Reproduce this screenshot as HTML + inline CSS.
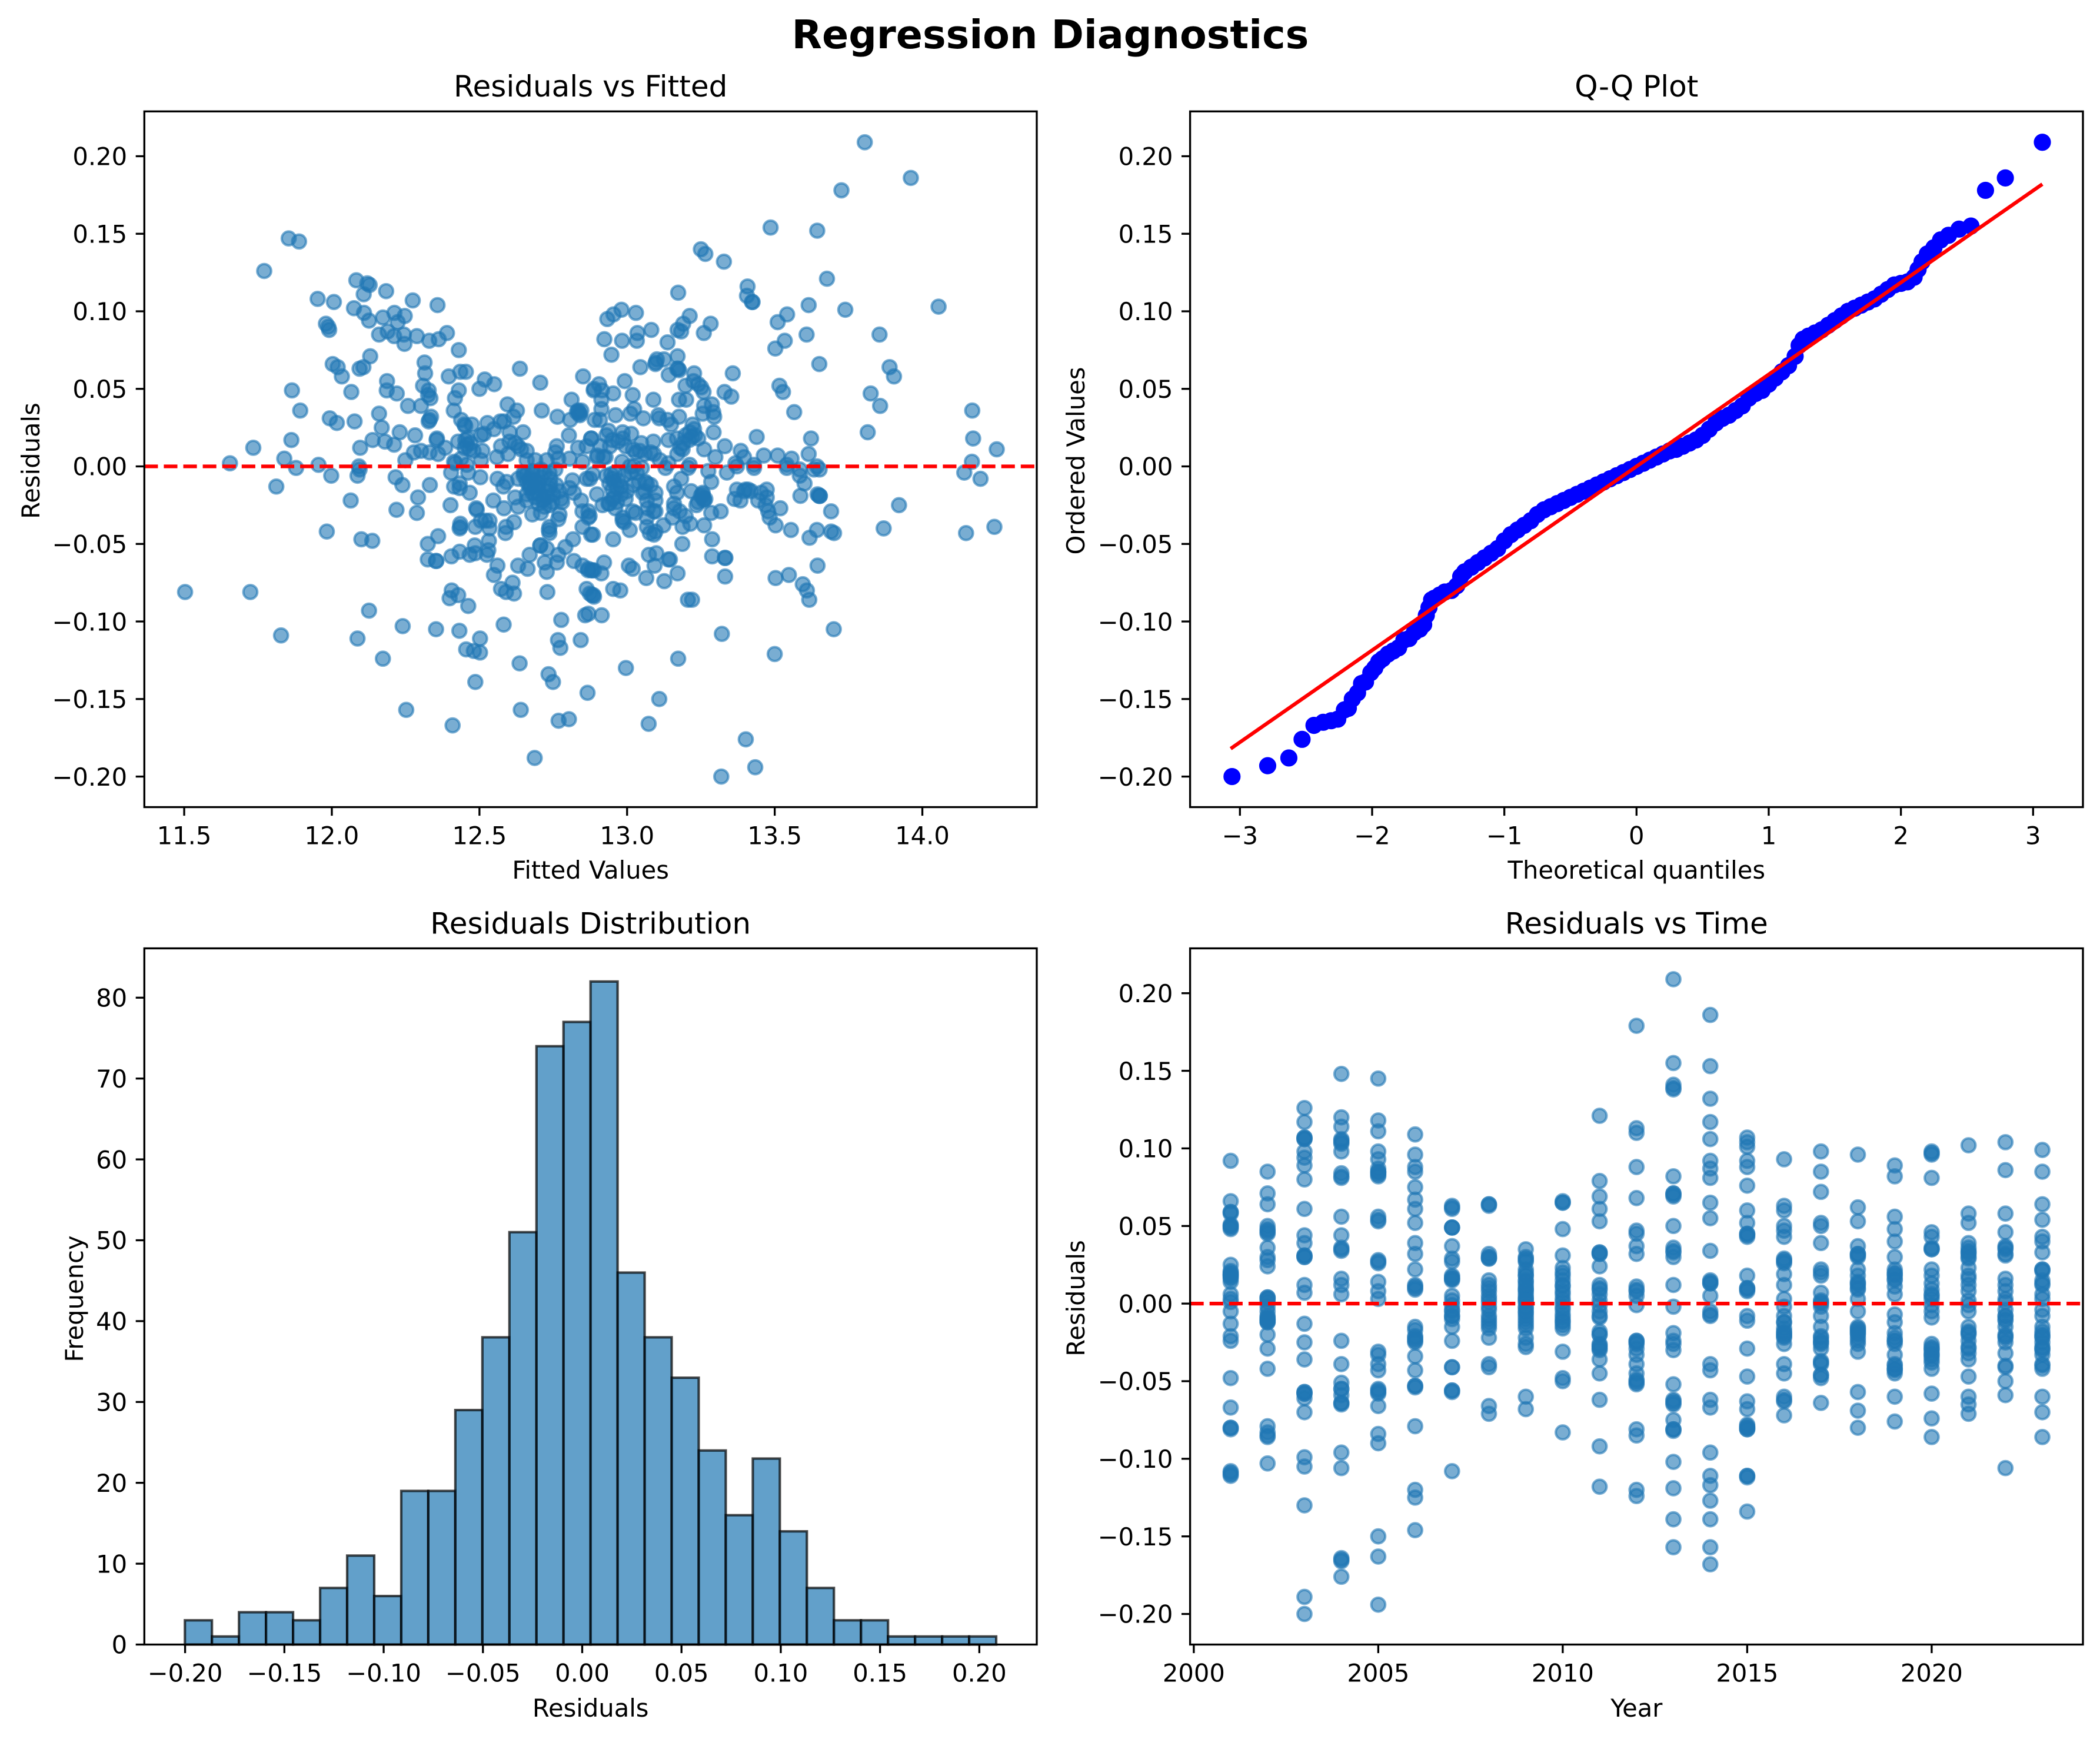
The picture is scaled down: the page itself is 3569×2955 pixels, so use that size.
<!DOCTYPE html>
<html lang="en">
<head>
<meta charset="utf-8">
<title>Regression Diagnostics</title>
<style>
html,body{margin:0;padding:0;background:#fff;}
svg{display:block;}
text{font-family:"DejaVu Sans","Liberation Sans",sans-serif;fill:#000;}
</style>
</head>
<body>
<svg id="figure" xmlns="http://www.w3.org/2000/svg" width="3569" height="2955" viewBox="0 0 3569 2955">
  <rect x="0" y="0" width="3569" height="2955" fill="#ffffff"/>
  <text x="1785" y="82" text-anchor="middle" font-size="66.67" font-weight="700">Regression Diagnostics</text>

  <g id="panel-fitted">
    <text x="1003.7" y="164" text-anchor="middle" font-size="50">Residuals vs Fitted</text>
    <text x="1003.7" y="1493" text-anchor="middle" font-size="41.67">Fitted Values</text>
    <text transform="translate(67 783) rotate(-90)" text-anchor="middle" font-size="41.67">Residuals</text>
  </g>
  <g id="panel-qq">
    <text x="2781.3" y="164" text-anchor="middle" font-size="50">Q-Q Plot</text>
    <text x="2781.3" y="1493" text-anchor="middle" font-size="41.67">Theoretical quantiles</text>
    <text transform="translate(1843 783) rotate(-90)" text-anchor="middle" font-size="41.67">Ordered Values</text>
  </g>
  <g id="panel-hist">
    <text x="1003.7" y="1586.5" text-anchor="middle" font-size="50">Residuals Distribution</text>
    <text x="1003.7" y="2917" text-anchor="middle" font-size="41.67">Residuals</text>
    <text transform="translate(141 2207) rotate(-90)" text-anchor="middle" font-size="41.67">Frequency</text>
  </g>
  <g id="panel-time">
    <text x="2781.3" y="1586.5" text-anchor="middle" font-size="50">Residuals vs Time</text>
    <text x="2781.3" y="2917" text-anchor="middle" font-size="41.67">Year</text>
    <text transform="translate(1843 2206) rotate(-90)" text-anchor="middle" font-size="41.67">Residuals</text>
  </g>
</svg>

<script>
// ---------- Chart data ----------
const fittedValues = [
11.854,11.889,11.771,12.083,12.120,12.128,12.108,12.184,11.952,12.007,
12.274,12.358,12.075,12.109,12.126,12.173,12.212,12.247,12.223,11.980,
11.988,11.991,12.189,12.160,12.211,12.244,12.288,12.246,12.330,12.362,
12.390,12.430,12.130,12.003,12.020,12.034,12.094,12.107,12.314,12.316,
12.396,12.435,12.454,12.637,12.706,12.851,12.518,12.550,12.500,12.187,
12.186,12.220,12.066,11.865,12.309,12.328,12.326,12.334,12.430,12.417,
12.413,12.302,12.258,12.160,11.893,11.993,12.017,12.077,12.336,12.331,
12.328,12.169,12.230,12.282,12.138,12.180,12.211,12.096,11.863,11.734,
11.839,11.655,11.955,11.879,12.092,12.249,12.278,12.302,12.331,12.356,
12.355,12.384,12.360,12.414,12.438,12.449,12.452,12.474,12.527,12.515,
12.505,12.549,12.571,12.583,12.595,12.627,12.615,12.602,12.648,12.711,
12.764,12.812,12.807,12.834,12.839,12.836,12.887,12.803,12.890,12.428,
12.452,12.457,12.467,12.510,12.438,12.505,12.559,12.573,12.597,12.631,
12.660,12.602,12.762,12.757,12.767,12.805,12.834,12.863,12.878,12.728,
12.689,12.660,12.418,12.457,12.621,12.641,12.849,
13.805,13.961,13.726,13.486,13.644,13.250,13.265,13.328,13.677,13.408,
13.406,13.423,13.425,13.173,12.981,12.954,12.933,13.030,13.615,13.542,
13.510,13.739,14.055,13.212,13.190,13.171,13.183,13.283,13.260,13.082,
13.035,13.033,12.983,12.923,13.137,13.608,13.855,13.534,13.502,12.947,
13.651,13.889,13.904,13.045,13.101,13.097,13.096,13.125,13.171,13.173,
13.176,13.169,13.141,13.227,13.358,12.992,12.905,13.516,13.528,13.330,
13.353,13.225,13.241,13.251,13.259,13.198,13.019,13.089,13.176,13.200,
12.913,12.888,12.915,12.953,13.825,13.857,13.566,14.169,13.024,12.913,
13.287,13.261,13.256,13.292,13.295,13.011,12.961,12.908,13.055,13.106,
13.109,13.137,13.149,13.176,13.222,13.227,13.293,13.439,13.623,13.815,
14.172,14.252,14.168,13.615,13.510,13.463,13.557,13.385,13.396,13.331,
13.299,13.261,13.212,13.198,13.169,13.140,13.188,13.241,13.014,13.089,
12.985,12.985,12.995,12.937,12.879,12.942,13.048,13.043,13.091,12.927,
12.898,13.111,12.983,13.212,13.367,13.430,13.541,13.643,13.024,13.140,
11.998,12.087,12.094,11.812,12.064,12.216,12.239,12.332,12.292,12.219,
12.288,12.402,12.489,12.491,11.983,12.100,12.137,12.360,12.325,12.325,
12.353,12.354,12.405,12.433,12.467,12.486,12.484,12.525,12.530,12.532,
12.435,12.435,12.433,12.486,12.534,12.520,12.505,12.534,12.590,12.588,
12.617,12.561,12.549,12.631,12.663,12.670,12.706,12.706,12.728,12.791,
12.817,12.721,12.728,12.767,12.762,12.820,12.849,12.868,12.868,12.882,
12.612,12.573,12.590,12.617,12.730,12.863,12.881,12.406,12.399,12.428,
12.462,11.503,11.724,12.126,12.240,12.353,12.432,12.582,12.777,12.858,
11.828,12.087,12.502,12.455,12.481,12.502,12.173,12.766,12.774,12.843,
12.636,12.734,12.749,12.486,12.866,12.252,12.640,12.768,12.803,12.409,
12.687,12.404,12.462,12.503,12.561,12.592,12.581,12.414,12.433,12.433,
12.467,12.547,12.583,12.621,12.631,12.660,12.679,12.708,12.771,12.767,
12.737,12.737,12.735,12.849,12.878,12.849,12.873,12.844,12.805,12.820,
12.737,12.776,12.670,12.670,12.699,12.728,12.747,12.713,12.689,12.660,
12.631,12.737,12.815,12.863,12.675,12.704,12.718,12.737,12.650,12.708,
12.757,12.679,12.694,
13.921,13.869,14.148,14.244,14.142,14.197,13.691,13.652,13.653,13.587,
13.601,13.585,13.555,13.503,13.643,13.618,13.691,13.701,13.645,13.503,
13.548,13.595,13.609,13.617,13.700,13.321,13.500,13.173,12.996,13.109,
13.073,13.402,13.434,13.319,13.206,13.220,12.953,12.977,12.914,12.869,
12.886,12.874,12.888,12.922,12.913,12.879,12.888,13.006,13.019,13.065,
13.126,13.093,13.171,13.074,13.099,13.140,13.145,13.288,13.331,13.333,
13.332,13.288,13.187,12.953,12.884,13.009,12.985,12.990,13.091,13.077,
13.096,13.123,13.188,13.214,13.261,13.285,13.317,13.067,13.067,13.154,
13.198,13.029,13.096,13.217,13.235,13.256,13.265,13.256,13.261,13.372,
13.401,13.396,13.364,13.384,13.473,13.454,13.473,13.444,13.469,13.478,
13.483,13.519,13.285,13.338,13.275,13.159,13.169,13.183,13.159,13.159,
13.178,13.062,13.067,13.096,13.067,13.096,12.951,12.946,12.956,12.956,
12.898,12.966,12.917,13.014,13.033,12.874,12.884,12.869,12.869,13.019,
13.053,12.985,12.937,12.966,12.995,13.541,13.585,13.652,13.633,13.207,
13.130,13.430,13.372,
12.65,12.66,12.67,12.68,12.69,12.70,12.71,12.72,12.73,12.74,
12.75,12.76,12.77,12.68,12.69,12.72,12.74,12.78,12.66,12.70,
12.93,12.94,12.95,12.96,12.97,12.98,12.99,13.00,12.95,12.94,
12.96,12.98,13.02,13.04,13.06,13.08,13.07,13.09,13.05,13.01,
13.25,13.26,13.255,13.24,13.21,13.22,13.19,13.18,13.23,13.17,
12.83,12.84,12.845,12.47,12.46,12.45,12.48,13.41,13.42,13.645,
13.65,13.02,13.03,13.06,13.08,12.93,12.95,12.97,12.90,12.92,
12.91
];
const fittedResiduals = [
.147,.145,.126,.120,.118,.117,.111,.113,.108,.106,
.107,.104,.102,.099,.094,.096,.099,.097,.093,.092,
.090,.088,.087,.085,.084,.085,.084,.079,.081,.082,
.086,.075,.071,.066,.064,.058,.063,.064,.067,.060,
.058,.061,.061,.063,.054,.058,.056,.053,.050,.055,
.049,.047,.048,.049,.052,.049,.046,.044,.049,.044,
.036,.039,.039,.034,.036,.031,.028,.029,.032,.030,
.029,.025,.022,.020,.017,.016,.014,.012,.017,.012,
.005,.002,.001,-.001,.000,.004,.009,.010,.009,.018,
.017,.012,.008,.003,.030,.027,.026,.027,.028,.021,
.020,.024,.029,.029,.040,.036,.032,.022,.022,.036,
.032,.043,.030,.036,.034,.035,.049,.020,.030,.016,
.017,.014,.011,.010,.005,.004,.006,.013,.008,.013,
.010,.016,.013,.009,.005,.005,.012,.013,.018,.004,
.004,.004,.002,.001,.015,.011,.003,
.209,.186,.178,.154,.152,.140,.137,.132,.121,.116,
.110,.106,.106,.112,.101,.098,.095,.099,.104,.098,
.093,.101,.103,.097,.092,.088,.087,.092,.086,.088,
.086,.081,.081,.082,.080,.085,.085,.081,.076,.072,
.066,.064,.058,.064,.069,.067,.066,.069,.071,.063,
.062,.063,.059,.060,.060,.055,.053,.052,.048,.048,
.045,.055,.053,.051,.048,.052,.046,.043,.043,.043,
.043,.050,.049,.047,.047,.039,.035,.036,.037,.037,
.040,.039,.034,.035,.032,.034,.033,.030,.031,.033,
.031,.030,.027,.032,.027,.024,.022,.019,.018,.022,
.018,.011,.003,.008,.007,.007,.005,.010,.006,.013,
.006,.011,.022,.020,.018,.017,.011,.018,.021,.016,
.022,.018,.013,.023,.018,.013,.015,.010,.008,.006,
.006,.004,.003,.001,.002,.001,.001,.000,.000,.002,
-.006,-.006,-.002,-.013,-.022,-.007,-.012,-.012,-.020,-.028,
-.030,-.025,-.027,-.028,-.042,-.047,-.048,-.045,-.050,-.060,
-.061,-.061,-.058,-.055,-.057,-.056,-.051,-.057,-.054,-.048,
-.037,-.039,-.040,-.039,-.040,-.035,-.035,-.035,-.039,-.043,
-.036,-.064,-.070,-.064,-.066,-.057,-.051,-.051,-.053,-.052,
-.047,-.062,-.068,-.057,-.062,-.061,-.064,-.067,-.066,-.067,
-.075,-.079,-.081,-.082,-.081,-.079,-.083,-.080,-.085,-.083,
-.090,-.081,-.081,-.093,-.103,-.105,-.106,-.102,-.099,-.096,
-.109,-.111,-.111,-.118,-.119,-.120,-.124,-.112,-.117,-.112,
-.127,-.134,-.139,-.139,-.146,-.157,-.157,-.164,-.163,-.167,
-.188,-.004,-.004,-.007,-.008,-.010,-.013,-.013,-.011,-.014,
-.017,-.022,-.027,-.020,-.026,-.022,-.031,-.030,-.031,-.034,
-.039,-.043,-.041,-.039,-.044,-.029,-.032,-.022,-.014,-.017,
-.014,-.021,-.008,-.012,-.014,-.020,-.023,-.022,-.009,-.005,
-.008,-.004,-.009,-.008,-.013,-.018,-.021,-.025,-.004,-.002,
-.002,-.005,-.012,
-.025,-.040,-.043,-.039,-.004,-.008,-.029,-.019,-.019,-.019,
-.011,-.006,-.041,-.038,-.041,-.046,-.042,-.043,-.064,-.072,
-.070,-.076,-.080,-.086,-.105,-.108,-.121,-.124,-.130,-.150,
-.166,-.176,-.194,-.200,-.086,-.086,-.079,-.080,-.096,-.095,
-.083,-.082,-.084,-.062,-.069,-.067,-.067,-.064,-.066,-.072,
-.074,-.064,-.069,-.057,-.056,-.060,-.060,-.058,-.059,-.059,
-.071,-.047,-.050,-.047,-.044,-.041,-.033,-.036,-.044,-.043,
-.042,-.038,-.039,-.037,-.038,-.030,-.029,-.039,-.033,-.033,
-.032,-.030,-.029,-.016,-.025,-.020,-.021,-.017,-.022,-.015,
-.015,-.016,-.021,-.022,-.015,-.017,-.020,-.022,-.025,-.029,
-.033,-.027,-.010,-.004,-.003,-.013,-.017,-.008,-.024,-.027,
-.029,-.010,-.011,-.017,-.022,-.022,-.008,-.005,-.010,-.020,
-.018,-.023,-.025,-.004,-.004,-.008,-.005,-.029,-.033,-.029,
-.017,-.035,-.024,-.014,-.021,-.001,-.002,-.002,-.002,-.001,
-.001,-.001,.000,
-.006,-.010,-.014,-.017,-.020,-.011,-.007,-.004,-.016,-.008,
-.018,-.012,-.016,-.003,-.013,-.026,-.012,-.023,-.018,-.024,
-.006,-.011,-.015,-.004,-.009,-.013,-.006,-.016,-.021,-.024,
-.027,-.018,-.012,-.010,-.016,-.012,-.027,-.029,-.001,.000,
-.019,-.021,-.018,-.023,.017,.019,.015,.012,.020,.008,
.035,.033,.036,.015,.018,.012,.010,-.015,-.016,-.018,
-.019,.011,.009,.008,.009,.020,.017,.016,.007,.006,
.013
];

const qqTheoretical = [
-3.06,-2.79,-2.63,-2.53,-2.44,-2.37,-2.31,-2.26,-2.21,-2.18,-2.15,-2.11,-2.08,-2.05,-2.01,-1.98,-1.95,-1.92,-1.88,-1.84,
-1.80,-1.76,-1.72,-1.68,-1.64,-1.61,-1.59,-1.57,-1.55,-1.53,-1.49,-1.45,-1.40,-1.36,-1.33,-1.30,-1.25,-1.20,-1.15,-1.10,
-1.05,-1.00,-.95,-.90,-.85,-.80,-.75,-.70,-.65,-.60,-.55,-.50,-.45,-.40,-.35,-.30,-.25,-.20,-.15,-.10,-.05,0,
.05,.10,.15,.20,.25,.30,.35,.40,.45,.50,.55,.60,.65,.70,.75,.80,.85,.90,.95,1.00,1.05,1.10,1.15,1.20,1.23,1.26,1.30,1.35,
1.40,1.45,1.50,1.55,1.60,1.65,1.70,1.75,1.80,1.85,1.90,1.95,2.00,2.05,2.10,2.13,2.16,2.20,2.25,2.30,2.36,2.44,2.53,2.64,2.79,3.07
];
const qqOrdered = [
-.200,-.193,-.188,-.176,-.167,-.165,-.164,-.163,-.157,-.156,-.150,-.146,-.140,-.139,-.133,-.130,-.126,-.124,-.121,-.119,
-.117,-.112,-.111,-.107,-.105,-.102,-.096,-.091,-.086,-.085,-.083,-.081,-.080,-.077,-.071,-.068,-.065,-.062,-.059,-.056,
-.053,-.048,-.044,-.041,-.038,-.035,-.031,-.028,-.026,-.024,-.022,-.020,-.018,-.016,-.014,-.012,-.010,-.008,-.006,-.004,-.002,.000,
.002,.004,.006,.008,.010,.011,.013,.015,.017,.020,.024,.028,.031,.033,.036,.039,.044,.047,.049,.053,.057,.061,.065,.071,.078,.082,.084,.086,
.088,.091,.094,.097,.100,.102,.104,.106,.108,.111,.114,.117,.118,.119,.122,.127,.132,.137,.141,.146,.149,.153,.155,.178,.186,.209
];
const qqLineX = [-3.07, 3.07];
const qqLineY = [-0.182, 0.182];

const histCounts = [3,1,4,4,3,7,11,6,19,19,29,38,51,74,77,82,46,38,33,24,16,23,14,7,3,3,1,1,1,1];
const histRange = [-0.2001, 0.2085];

const years = [2001,2002,2003,2004,2005,2006,2007,2008,2009,2010,2011,2012,2013,2014,2015,2016,2017,2018,2019,2020,2021,2022,2023];
const residualsByYear = [
[.092,.066,.059,.058,.051,.050,.048,.025,.021,.019,.018,.016,.014,.006,.003,.001,-.005,-.013,-.021,-.024,-.048,-.067,-.080,-.081,-.108,-.109,-.111,.019,.018,.020,.050,.049,.059,-.080,-.110,.017],
[.085,.071,.064,.050,.047,.045,.036,.030,.028,.024,.004,.003,.001,-.002,-.005,-.008,-.010,-.011,-.012,-.020,-.029,-.042,-.079,-.083,-.086,-.103,-.011,-.010,-.012,.004,.003,-.009,.048,.046,-.085],
[.126,.117,.107,.106,.098,.094,.089,.080,.061,.044,.039,.031,.030,.012,.007,-.013,-.025,-.036,-.057,-.058,-.061,-.070,-.099,-.105,-.130,-.189,-.200,.107,.106,.031,.030,-.058,-.057],
[.148,.120,.114,.106,.103,.098,.084,.081,.056,.044,.036,.034,.016,.012,.006,-.024,-.039,-.051,-.055,-.059,-.064,-.096,-.106,-.164,-.166,-.176,.105,.104,.082,.035,-.055,-.064,-.065,-.165],
[.145,.118,.111,.098,.093,.087,.085,.082,.056,.053,.028,.026,.014,.008,.003,-.031,-.033,-.039,-.043,-.055,-.058,-.066,-.084,-.090,-.150,-.163,-.194,.085,.084,.083,.027,.054,-.057,-.056],
[.109,.096,.088,.085,.075,.067,.061,.052,.039,.032,.022,.012,.009,-.015,-.017,-.021,-.025,-.024,-.034,-.043,-.053,-.054,-.079,-.120,-.125,-.146,.011,.010,-.053,-.022,-.023],
[.063,.061,.049,.049,.037,.029,.027,.018,.016,.015,.005,.002,-.001,-.005,-.008,-.015,-.024,-.041,-.056,-.057,-.108,.049,.017,.016,.062,-.041,-.056,-.008,-.010,-.004],
[.064,.063,.032,.030,.029,.015,.012,.008,.003,.001,-.004,-.008,-.014,-.016,-.022,-.039,-.041,-.066,-.071,.030,.029,.064,.005,-.002,-.010,-.012,.010],
[.035,.029,.027,.022,.018,.015,.012,.009,.006,.003,.001,-.002,-.005,-.008,-.012,-.016,-.022,-.026,-.028,-.060,-.068,.028,.030,.014,.010,.008,.004,.002,-.003,-.006,-.010,-.014,.018,.020],
[.066,.065,.048,.031,.023,.020,.018,.015,.011,.006,.003,.001,-.002,-.007,-.011,-.014,-.016,-.031,-.048,-.050,-.083,.065,.012,.008,-.004,-.009,-.012],
[.121,.079,.069,.061,.053,.033,.032,.024,.012,.009,.006,.002,-.001,-.005,-.009,-.018,-.020,-.026,-.029,-.036,-.045,-.062,-.092,-.118,.033,.032,.010,-.008,-.020,-.027,-.028,-.030],
[.179,.113,.110,.088,.068,.047,.045,.037,.032,.011,.008,.005,-.001,-.024,-.026,-.029,-.033,-.039,-.045,-.049,-.052,-.081,-.085,-.120,-.124,-.024,-.050,-.051,-.025,.009],
[.209,.155,.141,.139,.138,.082,.071,.069,.050,.036,.033,.030,.012,-.002,-.019,-.024,-.026,-.030,-.052,-.062,-.065,-.075,-.081,-.082,-.102,-.119,-.139,-.157,.070,.071,-.081,-.064,-.063,.034],
[.186,.153,.132,.117,.106,.092,.087,.081,.065,.055,.034,.015,.013,.005,-.005,-.008,-.039,-.043,-.062,-.067,-.096,-.111,-.117,-.127,-.139,-.157,-.168,.014,.013,-.007],
[.107,.104,.101,.092,.088,.076,.060,.052,.045,.043,.018,.010,.008,-.008,-.011,-.029,-.047,-.063,-.068,-.078,-.080,-.081,-.111,-.112,-.134,.045,.044,.010,.009,-.080,-.081,-.079,-.111],
[.093,.063,.060,.050,.047,.043,.029,.026,.019,.012,.003,-.002,-.008,-.012,-.016,-.021,-.026,-.039,-.045,-.060,-.063,-.072,.028,.027,-.012,-.018,-.019,-.020,-.022,-.062],
[.098,.085,.072,.052,.050,.039,.022,.018,.007,.002,.000,-.002,-.008,-.015,-.021,-.025,-.029,-.037,-.039,-.046,-.048,-.064,-.022,-.024,-.026,-.038,-.046,.001,.020],
[.096,.062,.053,.037,.032,.030,.022,.018,.013,.009,.003,-.005,-.015,-.018,-.022,-.026,-.031,-.057,-.069,-.080,.031,.032,.010,.012,.014,-.016,-.017,-.019,-.020,-.024],
[.089,.082,.056,.048,.040,.030,.022,.019,.015,.011,.006,-.007,-.012,-.019,-.024,-.026,-.033,-.039,-.042,-.045,-.060,-.076,.020,.018,.016,-.024,-.040,-.042,-.043,-.022],
[.098,.096,.081,.046,.043,.035,.035,.022,.018,.013,.009,.006,.003,-.001,-.005,-.009,-.026,-.029,-.033,-.038,-.042,-.058,-.074,-.086,-.028,-.030,-.032,-.034,-.036,.005,.036,.097],
[.102,.058,.052,.039,.036,.033,.029,.023,.018,.012,.008,.002,-.001,-.005,-.015,-.018,-.024,-.028,-.032,-.036,-.047,-.060,-.065,-.071,.032,.034,.016,-.019,-.020,-.029,.030],
[.104,.086,.058,.046,.037,.035,.031,.016,.012,.008,.003,.001,-.004,-.008,-.011,-.015,-.021,-.025,-.032,-.041,-.050,-.059,-.106,.036,.032,-.008,-.010,-.020,-.022,-.040],
[.099,.085,.064,.054,.043,.040,.033,.022,.021,.015,.012,.006,.003,-.004,-.008,-.015,-.018,-.022,-.025,-.029,-.033,-.039,-.042,-.060,-.070,-.086,.022,.013,-.020,-.021,-.028,-.030,-.040]
];
const referenceLevel = [0];

const fittedTicks = [11.5,12,12.5,13,13.5,14];
const residualTicks = [-0.2,-0.15,-0.1,-0.05,0,0.05,0.1,0.15,0.2];
const qqTicks = [-3,-2,-1,0,1,2,3];
const countTicks = [0,10,20,30,40,50,60,70,80];
const yearTicks = [2000,2005,2010,2015,2020];

// ---------- Layout ----------
const NS = 'http://www.w3.org/2000/svg';
const leftCol = {x0:245.3, x1:1762};
const rightCol = {x0:2022.6, x1:3540};
const topRow = {y0:189.3, y1:1371.5};
const bottomRow = {y0:1611.5, y1:2794.5};
const TICK_SIZE = 41.67;
const TICK_LEN = 14.6;
const TICK_PAD = 14.6;
const LINE_W = 3.33;

function scale(d0, d1, r0, r1) {
  return function (v) { return r0 + (v - d0) * (r1 - r0) / (d1 - d0); };
}
function make(tag, parent, attrs) {
  const el = document.createElementNS(NS, tag);
  for (const k in attrs) { el.setAttribute(k, attrs[k]); }
  parent.appendChild(el);
  return el;
}
function fmt(v, digits) {
  return v.toFixed(digits).replace('-', '\u2212');
}

function drawAxes(group, box, sx, sy, xt, xDigits, yt, yDigits) {
  const frame = make('rect', group, {x:box.x0, y:box.y0, width:box.x1-box.x0, height:box.y1-box.y0, fill:'none', stroke:'#000', 'stroke-width':LINE_W});
  
  
  xt.forEach(function (t) {
    const px = sx(t);
    const tick = make('line', group, {x1:px, x2:px, y1:box.y1, y2:box.y1+TICK_LEN, stroke:'#000', 'stroke-width':LINE_W});
    
    
    const lab = make('text', group, {x:px, y:box.y1+63, 'text-anchor':'middle', 'font-size':TICK_SIZE});
    lab.textContent = fmt(t, xDigits);
    
    
  });
  yt.forEach(function (t) {
    const py = sy(t);
    const tick = make('line', group, {x1:box.x0-TICK_LEN, x2:box.x0, y1:py, y2:py, stroke:'#000', 'stroke-width':LINE_W});
    
    
    const lab = make('text', group, {x:box.x0-TICK_LEN-TICK_PAD, y:py+15.2, 'text-anchor':'end', 'font-size':TICK_SIZE});
    lab.textContent = fmt(t, yDigits);
    
    
  });
}
function drawReference(group, box, sy, level) {
  const py = sy(level);
  const ref = make('line', group, {x1:box.x0, x2:box.x1, y1:py, y2:py, stroke:'#ff0000', 'stroke-width':6.25, 'stroke-dasharray':'23.1 10'});
  
  
}
function scatterDot(group, cx, cy) {
  return make('circle', group, {cx:cx, cy:cy, r:11.8, fill:'#1f77b4', 'fill-opacity':0.6, stroke:'#1f77b4', 'stroke-opacity':0.6, 'stroke-width':4.17});
}

const RES_LIM = [-0.2197, 0.2289];

// ---------- Residuals vs Fitted ----------
(function () {
  const g = document.getElementById('panel-fitted');
  const box = {x0:leftCol.x0, x1:leftCol.x1, y0:topRow.y0, y1:topRow.y1};
  const sx = scale(11.365, 14.3875, box.x0, box.x1);
  const sy = scale(RES_LIM[0], RES_LIM[1], box.y1, box.y0);
  const n = Math.min(fittedValues.length, fittedResiduals.length);
  for (let i = 0; i < n; i++) {
    const dot = scatterDot(g, sx(fittedValues[i]), sy(fittedResiduals[i]));
    
    
  }
  drawReference(g, box, sy, referenceLevel[0]);
  drawAxes(g, box, sx, sy, fittedTicks, 1, residualTicks, 2);
})();

// ---------- Q-Q Plot ----------
(function () {
  const g = document.getElementById('panel-qq');
  const box = {x0:rightCol.x0, x1:rightCol.x1, y0:topRow.y0, y1:topRow.y1};
  const sx = scale(-3.377, 3.377, box.x0, box.x1);
  const sy = scale(RES_LIM[0], RES_LIM[1], box.y1, box.y0);
  const n = Math.min(qqTheoretical.length, qqOrdered.length);
  for (let i = 0; i < n; i++) {
    const pt = make('circle', g, {cx:sx(qqTheoretical[i]), cy:sy(qqOrdered[i]), r:12.5, fill:'#0000ff', stroke:'#0000ff', 'stroke-width':4.17});
    
    
  }
  const fit = make('line', g, {x1:sx(qqLineX[0]), y1:sy(qqLineY[0]), x2:sx(qqLineX[1]), y2:sy(qqLineY[1]), stroke:'#ff0000', 'stroke-width':6.25});
  
  
  drawAxes(g, box, sx, sy, qqTicks, 0, residualTicks, 2);
})();

// ---------- Residuals Distribution ----------
(function () {
  const g = document.getElementById('panel-hist');
  const box = {x0:leftCol.x0, x1:leftCol.x1, y0:bottomRow.y0, y1:bottomRow.y1};
  const margin = (histRange[1] - histRange[0]) * 0.05;
  const sx = scale(histRange[0] - margin, histRange[1] + margin, box.x0, box.x1);
  const maxCount = Math.max.apply(null, histCounts);
  const sy = scale(0, maxCount * 1.05, box.y1, box.y0);
  const binW = (histRange[1] - histRange[0]) / histCounts.length;
  histCounts.forEach(function (c, i) {
    const a = sx(histRange[0] + i * binW);
    const b = sx(histRange[0] + (i + 1) * binW);
    const bar = make('rect', g, {x:a, y:sy(c), width:b-a, height:sy(0)-sy(c), fill:'#1f77b4', 'fill-opacity':0.7, stroke:'#000', 'stroke-opacity':0.7, 'stroke-width':4.17});
    
    
  });
  drawAxes(g, box, sx, sy, residualTicks, 2, countTicks, 0);
})();

// ---------- Residuals vs Time ----------
(function () {
  const g = document.getElementById('panel-time');
  const box = {x0:rightCol.x0, x1:rightCol.x1, y0:bottomRow.y0, y1:bottomRow.y1};
  const sx = scale(1999.9, 2024.1, box.x0, box.x1);
  const sy = scale(RES_LIM[0], RES_LIM[1], box.y1, box.y0);
  years.forEach(function (yr, i) {
    residualsByYear[i].forEach(function (r) {
      const dot = scatterDot(g, sx(yr), sy(r));
      
      
    });
  });
  drawReference(g, box, sy, referenceLevel[0]);
  drawAxes(g, box, sx, sy, yearTicks, 0, residualTicks, 2);
})();
</script>
</body>
</html>
